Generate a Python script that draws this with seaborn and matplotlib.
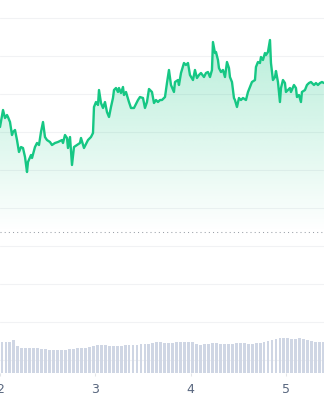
import numpy as np
import pandas as pd
import matplotlib
matplotlib.use("Agg")
import matplotlib.pyplot as plt
from matplotlib.colors import to_rgb
import seaborn as sns

# ---- data ----
hours = [0.00, 0.76, 1.26, 1.76, 2.01, 2.52, 3.02, 3.27, 3.78, 4.28, 4.78, 5.29, 5.79, 6.30, 6.80,
         7.05, 7.81, 8.06, 8.81, 9.32, 9.82, 10.32, 10.83, 11.33, 11.83, 12.59, 13.09, 13.85, 14.60,
         15.61, 15.86, 16.37, 16.87, 17.12, 17.63, 18.13, 18.63, 19.39, 20.14,
         20.40, 21.15, 22.16, 22.91, 23.42, 23.67, 24.17, 24.68, 24.93, 25.43, 25.94, 26.44, 26.94,
         27.45, 27.95, 28.45, 28.71, 29.21, 29.71, 29.96, 30.47, 30.97, 31.22, 31.73, 32.48, 32.99,
         33.74, 34.75, 35.25, 36.01, 36.51, 37.01, 37.52, 38.27, 38.78, 39.28, 39.78, 40.29,
         40.79, 41.55, 42.05, 42.55, 43.06, 43.81, 44.07, 44.82, 45.07, 45.58, 46.33, 46.83, 47.34,
         47.84, 48.60, 49.10, 49.60, 50.11, 50.61, 51.37, 51.87, 52.37, 52.88, 53.38, 53.63, 54.14,
         54.39, 54.89, 55.14, 55.65, 56.15, 56.66, 57.16, 57.66, 57.91, 58.42, 58.92, 59.17, 59.68,
         60.18, 60.68,
         61.19, 61.94, 62.45, 62.95, 63.45, 64.21, 64.46, 64.96, 65.47, 65.72, 66.22, 66.73, 66.98,
         67.48, 67.99, 68.24, 68.74, 69.25, 69.50, 70.00, 70.50, 70.76, 71.26, 71.76, 72.01, 72.52,
         73.02, 73.27, 74.03, 74.53, 74.79, 75.29, 75.79, 76.04, 76.80, 77.30, 77.81, 78.31, 78.56,
         79.07, 79.57, 80.07, 80.58, 81.08, 81.58]
price = [121.32, 125.79, 123.68, 124.47, 123.95, 122.63, 119.21, 120.00, 120.53, 117.89, 114.74,
         116.05, 115.79, 113.42, 109.47, 112.11, 113.95, 113.16, 116.05, 117.11, 116.58, 120.00,
         122.63, 118.68, 117.89, 117.37, 116.58, 117.11, 117.37, 117.89, 117.11, 119.21, 118.42,
         115.79, 118.68, 111.32, 116.05, 116.58, 117.11,
         118.42, 115.79, 117.89, 118.68, 119.74, 126.58, 127.89, 127.11, 131.05, 127.63, 126.32,
         127.89, 125.26, 123.95, 126.58, 128.95, 131.05, 131.58, 130.53, 131.58, 130.26, 131.84,
         129.74, 130.53, 127.89, 126.32, 126.32, 128.42, 129.21, 128.95, 126.32, 127.89, 131.32,
         130.53, 127.63, 128.42, 127.89, 128.42,
         128.42, 129.21, 132.89, 136.32, 132.37, 130.53, 133.16, 133.68, 132.37, 135.53, 138.16,
         137.63, 138.16, 135.00, 133.68, 136.32, 134.21, 135.00, 135.53, 134.47, 135.53, 135.79,
         134.47, 136.32, 143.68, 140.79, 141.05, 138.95, 136.84, 135.79, 136.32, 134.47, 138.42,
         136.84, 134.47, 133.16, 128.95, 128.42, 126.58, 128.95, 128.42,
         128.95, 128.42, 130.53, 131.84, 133.16, 133.68, 137.11, 138.42, 138.16, 139.74, 138.95,
         140.79, 140.26, 141.05, 144.21, 138.16, 133.68, 134.47, 136.05, 133.16, 127.89, 131.58,
         133.68, 132.89, 130.53, 131.05, 131.58, 130.53, 132.37, 131.58, 129.21, 129.74, 127.89,
         130.53, 131.05, 132.37, 132.89, 133.16, 132.89, 132.37, 132.89, 132.37, 132.89, 133.16,
         132.89]
volume = [3.15, 3.15, 3.15, 3.30, 2.70, 2.55, 2.55, 2.50, 2.50, 2.50,
          2.45, 2.40, 2.35, 2.30, 2.30, 2.30, 2.35, 2.40, 2.45, 2.50,
          2.50, 2.55, 2.60, 2.75, 2.85, 2.85, 2.80, 2.70, 2.70, 2.70,
          2.75, 2.80, 2.80, 2.85, 2.85, 2.90, 2.95, 2.95, 3.05, 3.10,
          3.10, 3.05, 3.05, 3.05, 3.10, 3.10, 3.15, 3.15, 3.10, 2.95,
          2.85, 2.90, 2.95, 3.00, 3.00, 2.95, 2.95, 2.90, 2.95, 3.00,
          3.00, 3.05, 2.95, 2.90, 3.00, 3.05, 3.10, 3.20, 3.30, 3.40,
          3.50, 3.50, 3.50, 3.45, 3.45, 3.50, 3.45, 3.30, 3.25, 3.15,
          3.15, 3.15]
vol_hour = np.arange(len(volume)) + 0.5
base_price = 93.68
day_ticks = [2, 3, 4, 5]
day_labels = ["2", "3", "4", "5"]

GREEN = "#16c784"
BAR = "#cfd6e4"

sns.set_theme(style="white")
plt.rcParams["font.family"] = ["DejaVu Sans"]

df = pd.DataFrame({"day": 2 + np.array(hours) / 24.0, "price": price})
vdf = pd.DataFrame({"day": 2 + vol_hour / 24.0, "volume": volume})

fig = plt.figure(figsize=(3.24, 4.0), dpi=100)
fig.patch.set_facecolor("white")
ax = fig.add_axes([0, 27 / 400, 1, 373 / 400])
ax.set_facecolor("white")

# grid
ax.set_yticks(np.arange(60, 151, 10))
ax.grid(axis="y", color="#f1f2f4", lw=0.75)
ax.set_axisbelow(True)
for s in ax.spines.values():
    s.set_visible(False)

# gradient fill under line
xs = df["day"].values
ys = df["price"].values
coll = ax.fill_between(xs, ys, base_price, facecolor="none", edgecolor="none")
path = coll.get_paths()[0]
n = 256
rgba = np.zeros((n, 1, 4))
rgba[..., :3] = to_rgb(GREEN)
rgba[:, 0, 3] = np.linspace(0.0, 0.30, n)
im = ax.imshow(rgba, extent=[xs.min(), xs.max(), base_price, ys.max()],
               origin="lower", aspect="auto", zorder=1, interpolation="bilinear")
im.set_clip_path(path, transform=ax.transData)

# baseline dotted
ax.axhline(base_price, color="#9aa0a8", lw=0.75, ls=(0, (1, 3)), zorder=2)

# price line
sns.lineplot(data=df, x="day", y="price", color=GREEN, lw=1.7, ax=ax, zorder=3)

# volume bars
ax2 = ax.twinx()
sns.barplot(data=vdf, x="day", y="volume", native_scale=True, orient="x", width=0.72,
            color=BAR, saturation=1, linewidth=0, errorbar=None, ax=ax2)
ax2.set_ylim(0, 37.3)
ax2.set_axis_off()

ax.set_xlim(2, 2 + 324 / 95.3)
ax.set_ylim(56.58, 154.74)
ax.set_xticks(day_ticks)
ax.set_xticklabels(day_labels)
ax.set_xlabel("")
ax.set_ylabel("")
ax.tick_params(axis="y", left=False, labelleft=False, right=False)
ax.tick_params(axis="x", bottom=True, length=2.2, width=0.75, color="#e3e5e8",
               labelcolor="#58667e", labelsize=9, pad=5.2)

fig.savefig("out.png", dpi=100, facecolor="white")
